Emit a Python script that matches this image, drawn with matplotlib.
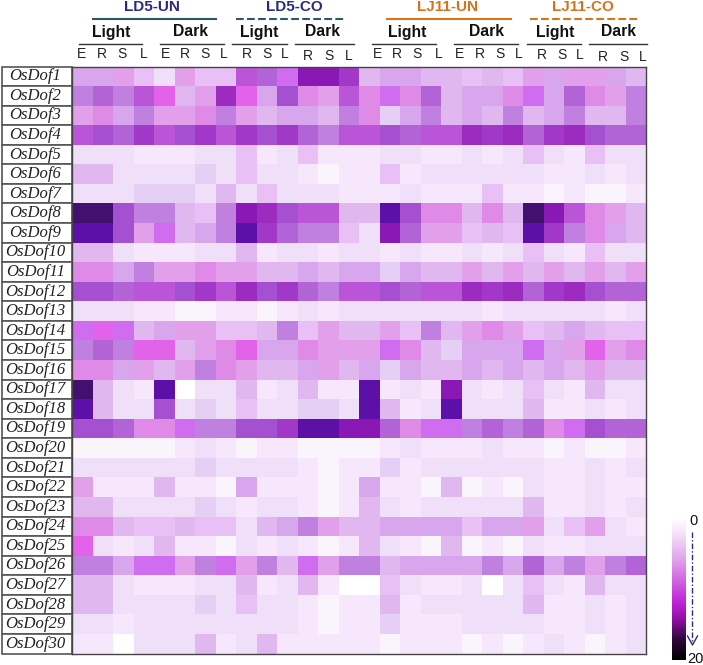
import numpy as np
import matplotlib
matplotlib.use("Agg")
import matplotlib.pyplot as plt
from matplotlib.colors import ListedColormap, LinearSegmentedColormap
from matplotlib.patches import Rectangle

genes = ["OsDof%d" % i for i in range(1, 31)]

# ld5-un (8), ld5-co (6), lj11-un (8), lj11-co (6)
values = [
    [7, 7, 8, 5, 3, 8, 5, 5, 14, 13, 11, 18, 18, 16, 6, 7, 7, 6, 6, 5, 6, 5, 8, 7, 8, 8, 7, 6],
    [12, 13, 12, 14, 10, 6, 8, 17, 10, 7, 15, 9, 8, 14, 9, 11, 9, 13, 6, 7, 7, 9, 11, 7, 13, 9, 8, 12],
    [8, 9, 7, 12, 8, 8, 9, 12, 8, 6, 7, 7, 6, 12, 9, 4, 7, 12, 6, 7, 6, 12, 6, 7, 12, 6, 6, 12],
    [14, 15, 13, 16, 14, 15, 16, 14, 16, 15, 16, 13, 12, 14, 14, 15, 13, 14, 14, 17, 16, 17, 13, 16, 17, 15, 13, 13],
    [3, 3, 3, 2, 2, 2, 3, 3, 5, 2, 3, 5, 2, 2, 2, 3, 3, 2, 2, 3, 2, 3, 5, 3, 2, 5, 3, 3],
    [6, 6, 3, 3, 3, 3, 4, 3, 5, 3, 3, 2, 1, 2, 2, 5, 2, 3, 3, 3, 3, 3, 3, 2, 2, 3, 2, 3],
    [3, 3, 3, 4, 4, 4, 3, 6, 3, 5, 3, 3, 3, 2, 2, 2, 3, 2, 2, 2, 5, 2, 2, 1, 2, 1, 1, 2],
    [20, 20, 15, 12, 12, 6, 5, 12, 18, 17, 15, 14, 14, 6, 6, 19, 15, 9, 9, 6, 9, 6, 20, 18, 14, 9, 8, 6],
    [19, 19, 15, 8, 11, 6, 7, 12, 19, 16, 13, 12, 12, 5, 3, 18, 13, 8, 8, 5, 6, 5, 19, 16, 12, 9, 7, 6],
    [6, 6, 3, 2, 2, 2, 3, 3, 6, 2, 3, 3, 2, 3, 3, 2, 3, 2, 2, 3, 2, 3, 5, 3, 2, 5, 3, 3],
    [9, 9, 7, 12, 8, 8, 9, 8, 8, 6, 6, 7, 6, 7, 7, 4, 7, 6, 6, 8, 6, 8, 6, 8, 6, 8, 6, 8],
    [15, 15, 13, 14, 14, 15, 16, 14, 17, 15, 16, 13, 12, 14, 14, 15, 13, 14, 14, 17, 16, 17, 13, 16, 17, 15, 13, 13],
    [3, 3, 3, 2, 2, 1, 1, 2, 2, 1, 2, 3, 2, 3, 3, 3, 3, 3, 3, 3, 2, 3, 3, 3, 3, 3, 2, 3],
    [11, 10, 11, 6, 7, 8, 8, 5, 5, 6, 12, 5, 8, 6, 6, 8, 5, 12, 6, 8, 9, 8, 5, 6, 7, 6, 5, 5],
    [12, 13, 12, 10, 10, 6, 8, 9, 10, 7, 7, 9, 8, 8, 8, 11, 9, 6, 4, 7, 7, 7, 11, 7, 8, 10, 8, 9],
    [9, 9, 7, 8, 6, 8, 12, 9, 8, 6, 6, 7, 8, 6, 7, 4, 7, 6, 6, 7, 6, 7, 6, 7, 6, 8, 6, 6],
    [20, 6, 3, 2, 19, 0, 3, 3, 6, 2, 3, 6, 2, 2, 19, 2, 3, 2, 18, 3, 2, 3, 5, 3, 2, 6, 3, 3],
    [19, 6, 3, 3, 15, 3, 4, 3, 5, 3, 3, 4, 4, 3, 19, 6, 2, 3, 19, 3, 3, 3, 6, 2, 2, 3, 2, 3],
    [15, 15, 13, 9, 9, 11, 12, 12, 15, 15, 16, 19, 19, 18, 18, 13, 9, 11, 11, 12, 13, 12, 13, 9, 11, 15, 13, 13],
    [1, 1, 1, 1, 1, 2, 3, 2, 1, 2, 2, 1, 1, 1, 1, 2, 3, 2, 2, 2, 3, 2, 2, 1, 2, 1, 1, 2],
    [3, 3, 3, 3, 3, 3, 4, 3, 3, 3, 3, 2, 1, 2, 2, 4, 2, 3, 3, 3, 3, 3, 3, 2, 2, 3, 2, 3],
    [8, 2, 2, 2, 6, 2, 2, 1, 7, 2, 2, 2, 1, 2, 7, 2, 2, 1, 6, 1, 2, 1, 3, 2, 2, 3, 2, 2],
    [6, 6, 3, 3, 3, 3, 4, 3, 2, 3, 3, 2, 1, 2, 6, 3, 2, 3, 3, 3, 3, 3, 6, 2, 2, 3, 2, 3],
    [9, 9, 6, 5, 5, 6, 5, 5, 3, 6, 7, 12, 8, 6, 6, 7, 7, 7, 7, 5, 7, 7, 8, 3, 5, 8, 3, 2],
    [10, 3, 2, 3, 6, 2, 2, 1, 3, 2, 3, 2, 1, 2, 6, 3, 2, 1, 6, 1, 2, 1, 3, 2, 2, 3, 3, 3],
    [12, 12, 7, 11, 11, 8, 12, 11, 8, 12, 6, 11, 8, 12, 12, 6, 7, 7, 7, 7, 12, 7, 13, 7, 12, 8, 12, 13],
    [6, 6, 3, 2, 2, 2, 3, 3, 6, 2, 3, 6, 2, 0, 0, 5, 3, 2, 2, 3, 0, 3, 5, 3, 2, 6, 3, 3],
    [6, 6, 3, 3, 3, 3, 4, 3, 5, 3, 3, 2, 1, 2, 2, 6, 2, 3, 3, 3, 3, 3, 6, 2, 2, 3, 2, 3],
    [3, 3, 2, 3, 3, 3, 3, 3, 3, 3, 3, 2, 1, 2, 2, 4, 2, 2, 2, 3, 3, 3, 3, 2, 2, 3, 2, 3],
    [2, 2, 0, 3, 3, 3, 6, 2, 3, 6, 2, 2, 2, 2, 2, 1, 2, 2, 2, 1, 2, 1, 2, 3, 2, 1, 2, 3],
]

level_colors = ["#ffffff", "#faf5fd", "#f7e7fc", "#f0dff8", "#e6cff5", "#e9c0f6", "#e0b8ef",
                "#d8a6ec", "#e29fea", "#e08ae8", "#e362ea", "#d06cf0", "#c080e0", "#b264d6",
                "#bb55d8", "#a550d0", "#a238c8", "#9c2cc0", "#8a18b4", "#5c10a8", "#441070"]
bar_colors = ["#ffffff", "#f5e5fa", "#e0a0ec", "#d060e0", "#c020d8", "#8a10a0", "#300840", "#000000"]
bar_stops = [0, 0.1, 0.3, 0.45, 0.6, 0.72, 0.85, 1]

conditions = [("LD5-UN", 152, "#2b2a80", 93, 216, "-"), ("LD5-CO", 294, "#2b2a80", 236, 346, "--"),
              ("LJ11-UN", 448, "#d8731c", 387, 511, "-"), ("LJ11-CO", 583, "#d8731c", 530, 640, "--")]
light_dark = [("Light", 111, 79, 142), ("Dark", 191, 160, 224), ("Light", 259, 232, 287), ("Dark", 322, 295, 354),
              ("Light", 407, 372, 436), ("Dark", 487, 454, 518), ("Light", 555, 527, 581), ("Dark", 618, 589, 647)]
tissues = list("ERSLERSLRSLRSLERSLERSLRSLRSL")
tissue_x = [82, 102, 122, 144, 165, 185, 205, 224, 247, 267, 285, 308, 329, 349,
            377, 397, 417, 439, 459, 480, 500, 519, 542, 562, 580, 603, 624, 643]
tissue_y = [53.5] * 8 + [54] * 3 + [56] * 3 + [54] * 8 + [55] * 3 + [57] * 3

W, H = 703, 665
fig = plt.figure(figsize=(W / 100, H / 100), dpi=100)


def px_axes(x0, y0, x1, y1):
    return fig.add_axes([x0 / W, 1 - y1 / H, (x1 - x0) / W, (y1 - y0) / H])


# overlay in pixel coords for the headers
over = px_axes(0, 0, W, H)
over.set_xlim(0, W)
over.set_ylim(H, 0)
over.axis("off")

top, bottom = 66.5, 653.5
ax = px_axes(72, top, 646, bottom)
data = np.array(values)
ax.pcolormesh(data, cmap=ListedColormap(level_colors), vmin=-0.5, vmax=20.5)
ax.set_ylim(len(genes), 0)
ax.set_xticks([])
ax.set_yticks([])
for s in ax.spines.values():
    s.set_color("#444444")
    s.set_linewidth(1)

row_h = (bottom - top) / len(genes)
for i, g in enumerate(genes):
    over.add_patch(Rectangle((1.5, top + i * row_h), 70, row_h, fc="white", ec="#555555", lw=1.2))
    over.text(35.5, top + (i + 0.5) * row_h, g, family="Liberation Serif", style="italic",
              fontsize=12, ha="center", va="center", color="#222222")

for name, x, col, x0, x1, ls in conditions:
    over.text(x, 7, name, color=col, fontsize=11, fontweight="bold", family="Liberation Sans",
              ha="center", va="center")
    over.plot([x0, x1], [18.5, 18.5], ls=ls, color="#2a5a60" if col == "#2b2a80" else col, lw=1.5)

for name, x, x0, x1 in light_dark:
    over.text(x, 32, name, color="#111111", fontsize=11.3, fontweight="bold", family="Liberation Sans",
              ha="center", va="center")
    over.plot([x0, x1], [43.5, 43.5], color="#333333", lw=1)

for t, x, y in zip(tissues, tissue_x, tissue_y):
    over.text(x, y, t, color="#222222", fontsize=10, family="Liberation Sans", ha="center", va="center")

# colour bar
cax = px_axes(672, 518, 686, 660)
cmap2 = LinearSegmentedColormap.from_list("bar", list(zip(bar_stops, bar_colors)))
cax.imshow(np.linspace(0, 20, 256)[:, None], cmap=cmap2, aspect="auto", vmin=0, vmax=20)
cax.axis("off")
over.text(689.5, 521, "0", fontsize=10.5, family="Liberation Sans", ha="left", va="center", color="#111111")
over.text(687.5, 659, "20", fontsize=10.5, family="Liberation Sans", ha="left", va="center", color="#111111")
over.plot([692, 692], [532, 642], ls=(0, (4, 1.5, 1, 1.5)), color="#2b2a80", lw=1)
over.plot([687.5, 692.5, 697.5], [636, 645, 636], color="#2b2a80", lw=1)

fig.savefig("out.png", dpi=100)
